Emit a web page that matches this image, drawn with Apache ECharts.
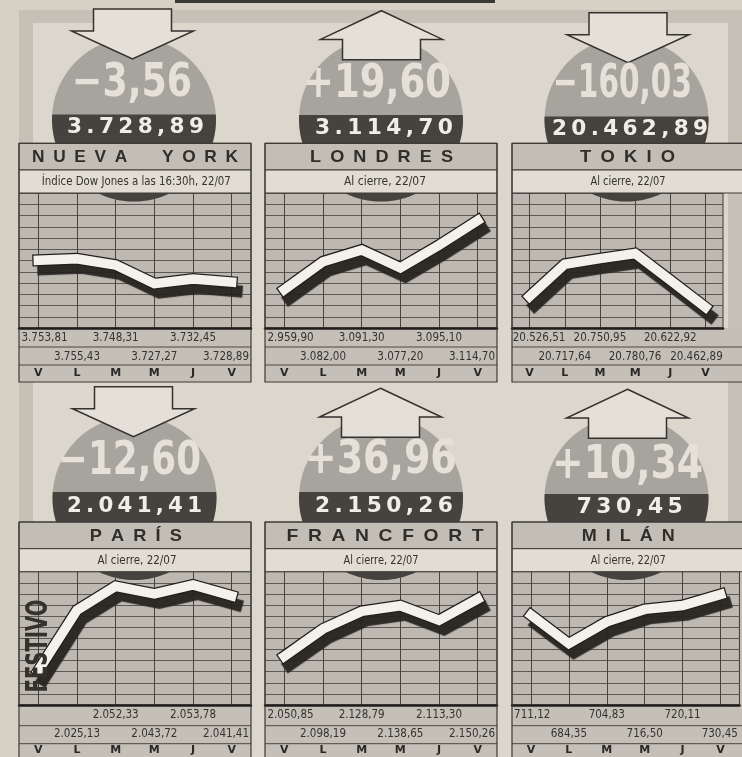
<!DOCTYPE html>
<html><head><meta charset="utf-8">
<script src="https://cdn.jsdelivr.net/npm/echarts@6/dist/echarts.min.js"></script>
<style>html,body{margin:0;padding:0;background:#d7d1c5;}#c{width:742px;height:757px;}</style>
</head><body><div id="c"></div>
<script>
// ---------------- data ----------------
const days = ['V', 'L', 'M', 'M', 'J', 'V'];
const markets = ['NUEVA YORK', 'LONDRES', 'TOKIO', 'PARÍS', 'FRANCFORT', 'MILÁN'];
const notes = ['Índice Dow Jones a las 16:30h, 22/07', 'Al cierre, 22/07', 'Al cierre, 22/07',
               'Al cierre, 22/07', 'Al cierre, 22/07', 'Al cierre, 22/07'];
const changes = ['−3,56', '+19,60', '−160,03', '−12,60', '+36,96', '+10,34'];
const directions = ['down', 'up', 'down', 'down', 'up', 'up'];
const closes = ['3.728,89', '3.114,70', '20.462,89', '2.041,41', '2.150,26', '730,45'];

const newYork   = [3753.81, 3755.43, 3748.31, 3727.27, 3732.45, 3728.89];
const london    = [3059.90, 3082.00, 3091.30, 3077.20, 3095.10, 3114.70];
const tokyo     = [20526.51, 20717.64, 20750.95, 20780.76, 20622.92, 20462.89];
const paris     = [1956.6, 2025.13, 2052.33, 2043.72, 2053.78, 2041.41]; // V festivo: stub
const frankfurt = [2050.85, 2098.19, 2128.79, 2138.65, 2113.30, 2150.26];
const milan     = [711.12, 684.35, 704.83, 716.50, 720.11, 730.45];

const newYorkLabels   = ['3.753,81', '3.755,43', '3.748,31', '3.727,27', '3.732,45', '3.728,89'];
const londonLabels    = ['2.959,90', '3.082,00', '3.091,30', '3.077,20', '3.095,10', '3.114,70'];
const tokyoLabels     = ['20.526,51', '20.717,64', '20.750,95', '20.780,76', '20.622,92', '20.462,89'];
const parisLabels     = ['', '2.025,13', '2.052,33', '2.043,72', '2.053,78', '2.041,41'];
const frankfurtLabels = ['2.050,85', '2.098,19', '2.128,79', '2.138,65', '2.113,30', '2.150,26'];
const milanLabels     = ['711,12', '684,35', '704,83', '716,50', '720,11', '730,45'];

const valueSets = [newYork, london, tokyo, paris, frankfurt, milan];
const labelSets = [newYorkLabels, londonLabels, tokyoLabels, parisLabels, frankfurtLabels, milanLabels];

// ---------------- layout ----------------
const colLeft = [19, 265, 512];
const colW = 232;
const rowOff = [0, 378.7];
const B = { headerTop: 143.3, subTop: 170, plotTop: 193, plotBottom: 328, sep1: 347, sep2: 365, bottom: 382 };
const yRange = [[3677, 3830], [3029.5, 3136.5], [20340, 21139], [1917.7, 2068.8], [1966.2, 2197.7], [626.9, 751.8]];
const deco = [
  { cx: 134,   cy: 119.5, band: 114.5, ax: 132.5, ay: 9,     chX: 132,   chY: 84,  chW: 120, clX: 135.5, clY: 127,  clW: 137, hdX: 135,   hdW: 206, sbX: 136.3, sbW: 189 },
  { cx: 381,   cy: 119.5, band: 115,   ax: 381.5, ay: 10.7,  chX: 377,   chY: 85,  chW: 148, clX: 384,   clY: 128,  clW: 138, hdX: 381.5, hdW: 143, sbX: 385,   sbW: 82 },
  { cx: 626.5, cy: 119.5, band: 116.5, ax: 628,   ay: 12.7,  chX: 622.5, chY: 85.5,chW: 139, clX: 630,   clY: 129.5,clW: 156, hdX: 627.5, hdW: 95,  sbX: 628,   sbW: 75 },
  { cx: 134.5, cy: 498,   band: 492,   ax: 133.5, ay: 386.7, chX: 129.5, chY: 462, chW: 143, clX: 134.5, clY: 506,  clW: 135, hdX: 135.8, hdW: 92,  sbX: 137,   sbW: 79 },
  { cx: 381,   cy: 498,   band: 492,   ax: 380.5, ay: 388.3, chX: 380.8, chY: 461, chW: 152, clX: 384,   clY: 506.5,clW: 138, hdX: 385,   hdW: 197, sbX: 381,   sbW: 75 },
  { cx: 626.5, cy: 498,   band: 494,   ax: 627.5, ay: 389.3, chX: 627.5, chY: 466, chW: 151, clX: 629.8, clY: 507.5,clW: 106, hdX: 628.3, hdW: 93,  sbX: 628.3, sbW: 75 }
];

const C = {
  page: '#d7d1c5', frame: '#c6c1b7', inner: '#dcd7cc', plot: '#bdb9b1', labels: '#c4c0b8',
  header: '#c3beb5', sub: '#e1ddd3', circle: '#a7a49e', dark: '#46433f', arrow: '#e4e0d7',
  ink: '#35322f', grid: '#5c5954', vgrid: '#46433f', chg: '#e6e1d8', close: '#f1ede6'
};

const LABEL_SIZE = 11.5;
const LABEL_FAMILY = '"DejaVu Sans Condensed", "DejaVu Sans", sans-serif';
const mctx = document.createElement('canvas').getContext('2d');
function textWidth(t, font) { mctx.font = font; return mctx.measureText(t).width; }

const grids = [], xAxes = [], yAxes = [], series = [], graphics = [];

// page frame
graphics.push({ type: 'rect', shape: { x: 19, y: 10, width: 723, height: 747 }, style: { fill: C.frame }, z: -20, silent: true });
graphics.push({ type: 'rect', shape: { x: 33, y: 23, width: 695, height: 734 }, style: { fill: C.inner }, z: -19, silent: true });
graphics.push({ type: 'rect', shape: { x: 175, y: 0, width: 320, height: 3 }, style: { fill: '#3a3835' }, z: -18, silent: true });

function textEl(text, font, x, y, targetW, fill, z, extra) {
  const s = targetW ? targetW / textWidth(text, font) : 1;
  return Object.assign({
    type: 'text', x: x, y: y, scaleX: s, z: z, silent: true,
    style: { text: text, font: font, fill: fill, align: 'center', verticalAlign: 'middle',
             textAlign: 'center', textVerticalAlign: 'middle' }
  }, extra || {});
}

for (let p = 0; p < 6; p++) {
  const col = p % 3, row = Math.floor(p / 3);
  const L = colLeft[col], off = rowOff[row];
  const vals = valueSets[p], labs = labelSets[p], d = deco[p];
  const half = colW / 12;
  const lfont = LABEL_SIZE + 'px ' + LABEL_FAMILY;
  const padL = labs[0] ? Math.max(0, 2 * (textWidth(labs[0], lfont) / 2 - half + 2.5)) : 0;
  const padR = labs[5] ? Math.max(0, 2 * (textWidth(labs[5], lfont) / 2 - half + 2)) : 0;

  grids.push({ left: L, top: B.plotTop + off, width: colW, height: B.plotBottom - B.plotTop,
    show: true, backgroundColor: C.plot, borderColor: '#3d3a37', borderWidth: 1, containLabel: false });

  const labelBase = { interval: 0, fontSize: LABEL_SIZE, fontFamily: LABEL_FAMILY, color: C.ink, lineHeight: 14 };
  xAxes.push({ gridIndex: p, type: 'category', data: days, boundaryGap: true, position: 'bottom',
    axisLine: { show: true, onZero: false, lineStyle: { color: '#1f1d1b', width: 2.5 } },
    axisTick: { show: false }, axisLabel: { show: false },
    splitLine: { show: true, interval: 0, alignWithLabel: true, lineStyle: { color: C.vgrid, width: 1 } } });
  xAxes.push({ gridIndex: p, type: 'category', data: days, boundaryGap: true, position: 'bottom',
    axisLine: { show: false }, axisTick: { show: false }, splitLine: { show: false },
    axisLabel: Object.assign({}, labelBase, { margin: 3,
      formatter: (v, i) => (i % 2 === 0 && labs[i]) ? (i === 0 ? '{f|' + labs[i] + '}' : labs[i]) : '',
      rich: { f: { padding: [0, 0, 0, padL], fontSize: LABEL_SIZE, fontFamily: LABEL_FAMILY, color: C.ink, lineHeight: 14 } } }) });
  xAxes.push({ gridIndex: p, type: 'category', data: days, boundaryGap: true, position: 'bottom',
    axisLine: { show: false }, axisTick: { show: false }, splitLine: { show: false },
    axisLabel: Object.assign({}, labelBase, { margin: 22,
      formatter: (v, i) => (i % 2 === 1 && labs[i]) ? (i === 5 ? '{l|' + labs[i] + '}' : labs[i]) : '',
      rich: { l: { padding: [0, padR, 0, 0], fontSize: LABEL_SIZE, fontFamily: LABEL_FAMILY, color: C.ink, lineHeight: 14 } } }) });
  xAxes.push({ gridIndex: p, type: 'category', data: days, boundaryGap: true, position: 'bottom',
    axisLine: { show: false }, axisTick: { show: false }, splitLine: { show: false },
    axisLabel: { interval: 0, margin: 39, fontSize: 11, fontWeight: 'bold', fontFamily: '"DejaVu Sans", sans-serif', color: '#2a2826', lineHeight: 13 } });

  yAxes.push({ gridIndex: p, type: 'value', min: yRange[p][0], max: yRange[p][1], show: false });
  yAxes.push({ gridIndex: p, type: 'value', min: 0, max: 12, interval: 1,
    axisLine: { show: false }, axisTick: { show: false }, axisLabel: { show: false },
    splitLine: { show: true, lineStyle: { color: C.grid, width: 1 } } });

  series.push({ type: 'line', xAxisIndex: 4 * p, yAxisIndex: 2 * p, data: vals, symbol: 'none', silent: true, z: 3,
    emphasis: { disabled: true },
    lineStyle: { color: '#221f1d', width: 12, cap: 'square', join: 'miter', miterLimit: 10,
      shadowColor: 'rgba(38,35,32,0.95)', shadowBlur: 1, shadowOffsetX: 5, shadowOffsetY: 9 } });
  series.push({ type: 'line', xAxisIndex: 4 * p, yAxisIndex: 2 * p, data: vals, symbol: 'none', silent: true, z: 4,
    emphasis: { disabled: true },
    lineStyle: { color: '#f4f1ea', width: 9.5, cap: 'square', join: 'miter', miterLimit: 10 } });

  // label rows
  graphics.push({ type: 'rect', shape: { x: L, y: B.plotBottom + off, width: colW, height: B.bottom - B.plotBottom },
    style: { fill: C.labels }, z: -5, silent: true });
  [B.sep1, B.sep2].forEach(yy => graphics.push({ type: 'line', shape: { x1: L, y1: yy + off, x2: L + colW, y2: yy + off },
    style: { stroke: '#4a4743', lineWidth: 1 }, z: -4, silent: true }));

  // circle
  const r = 82;
  graphics.push({ type: 'circle', shape: { cx: d.cx, cy: d.cy, r: r }, style: { fill: C.circle }, z: 10, silent: true });
  const t0 = Math.asin((d.band - d.cy) / r);
  const pts = [];
  for (let k = 0; k <= 72; k++) {
    const t = t0 + (Math.PI - 2 * t0) * k / 72;
    pts.push([d.cx + r * Math.cos(t), d.cy + r * Math.sin(t)]);
  }
  graphics.push({ type: 'polygon', shape: { points: pts }, style: { fill: C.dark }, z: 11, silent: true });

  // header + subtitle bands
  graphics.push({ type: 'rect', shape: { x: L, y: B.headerTop + off, width: colW, height: B.subTop - B.headerTop },
    style: { fill: C.header, stroke: '#3d3a37', lineWidth: 1 }, z: 12, silent: true });
  graphics.push({ type: 'rect', shape: { x: L, y: B.subTop + off, width: colW, height: B.plotTop - B.subTop },
    style: { fill: C.sub, stroke: '#3d3a37', lineWidth: 1 }, z: 12, silent: true });
  graphics.push({ type: 'rect', shape: { x: L, y: B.headerTop + off, width: colW, height: B.bottom - B.headerTop },
    style: { fill: 'rgba(0,0,0,0)', stroke: '#3d3a37', lineWidth: 1.2 }, z: 12, silent: true });

  // arrow
  const ax = d.ax, ay = d.ay;
  const arrowPts = directions[p] === 'down'
    ? [[ax - 39, ay], [ax + 39, ay], [ax + 39, ay + 22], [ax + 61, ay + 22], [ax, ay + 50], [ax - 61, ay + 22], [ax - 39, ay + 22]]
    : [[ax, ay], [ax + 61, ay + 28.7], [ax + 39, ay + 28.7], [ax + 39, ay + 49], [ax - 39, ay + 49], [ax - 39, ay + 28.7], [ax - 61, ay + 28.7]];
  graphics.push({ type: 'polygon', shape: { points: arrowPts }, style: { fill: C.arrow, stroke: '#34312e', lineWidth: 1.5, lineJoin: 'miter' }, z: 13, silent: true });

  // texts
  const chFont = 'bold 46px "DejaVu Sans Condensed", "DejaVu Sans", sans-serif';
  graphics.push(textEl(changes[p], chFont, d.chX, d.chY, d.chW, C.chg, 14));
  const clText = closes[p].split('').join('\u2009');
  graphics.push(textEl(clText, 'bold 22px "DejaVu Sans", sans-serif', d.clX, d.clY, d.clW, C.close, 14));
  const hdText = markets[p].split(' ').map(w => w.split('').join('\u2002')).join('\u2002\u2002\u2002\u2002');
  graphics.push(textEl(hdText, 'bold 17px "Liberation Sans", "DejaVu Sans", sans-serif', d.hdX, B.headerTop + off + 14.4, d.hdW, '#302e2b', 14));
  graphics.push(textEl(notes[p], '13px "DejaVu Sans Condensed", "DejaVu Sans", sans-serif', d.sbX, B.subTop + off + 11.7, d.sbW, '#36332f', 14));
}

// FESTIVO (Paris, Friday holiday)
graphics.push(textEl('FESTIVO', 'bold 30px "DejaVu Sans Condensed", "DejaVu Sans", sans-serif', 39.5, 646, 93, '#35322e', 15,
  { rotation: Math.PI / 2 }));

const chart = echarts.init(document.getElementById('c'), null, { renderer: 'canvas', width: 742, height: 757 });
chart.setOption({
  animation: false,
  backgroundColor: C.page,
  grid: grids, xAxis: xAxes, yAxis: yAxes, series: series,
  graphic: { elements: graphics }
});
</script></body></html>
